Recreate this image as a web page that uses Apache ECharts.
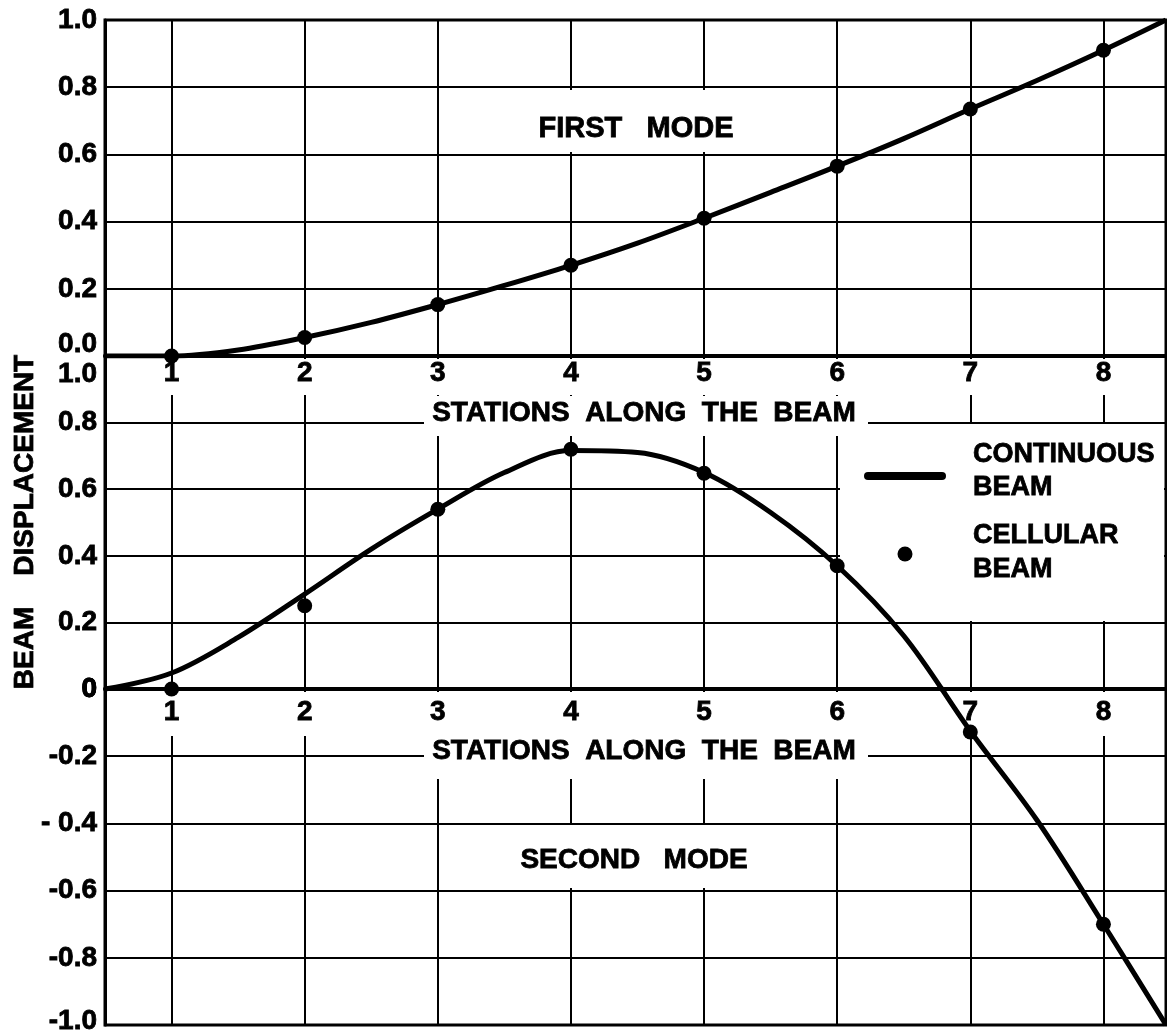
<!DOCTYPE html>
<html>
<head>
<meta charset="utf-8">
<script src="https://cdn.jsdelivr.net/npm/echarts@6/dist/echarts.min.js"></script>
<style>
  html, body { margin: 0; padding: 0; background: #fff; }
  #chart { width: 1167px; height: 1036px; }
</style>
</head>
<body>
<div id="chart"></div>
<script>
// Stations along the beam (x positions of the cells) and their labels
const stations = [1, 2, 3, 4, 5, 6, 7, 8];
const stationLabels = ['1', '2', '3', '4', '5', '6', '7', '8'];

// Continuous-beam mode shapes, sampled every half station from end to end
const curveStations = [0.5, 1, 1.5, 2, 2.5, 3, 3.5, 4, 4.5, 5, 5.5, 6, 6.5, 7, 7.5, 8, 8.47];
const firstModeCurve = [0, 0, 0.018, 0.055, 0.10, 0.153, 0.21, 0.27, 0.336, 0.41, 0.487, 0.565, 0.647, 0.735, 0.82, 0.91, 1.0];
const secondModeCurve = [0, 0.048, 0.155, 0.285, 0.42, 0.54, 0.65, 0.716, 0.71, 0.65, 0.53, 0.37, 0.16, -0.125, -0.39, -0.70, -1.0];

// Cellular-beam displacements at each station
const firstModeCells = [0, 0.055, 0.153, 0.27, 0.41, 0.565, 0.735, 0.91];
const secondModeCells = [0, 0.25, 0.54, 0.72, 0.648, 0.37, -0.128, -0.70];

// Displacement tick values and their printed labels
const firstModeTicks = [0, 0.2, 0.4, 0.6, 0.8, 1.0];
const firstModeTickLabels = ['0.0', '0.2', '0.4', '0.6', '0.8', '1.0'];
const secondModeTicks = [-1.0, -0.8, -0.6, -0.4, -0.2, 0, 0.2, 0.4, 0.6, 0.8, 1.0];
const secondModeTickLabels = ['-1.0', '-0.8', '-0.6', '- 0.4', '-0.2', '0', '0.2', '0.4', '0.6', '0.8', '1.0'];

const FONT = '"Liberation Sans", Arial, sans-serif';
const INK = '#000';
const SMOOTH = 0.34;

function pairs(xs, ys) { return xs.map((x, i) => [x, ys[i]]); }
function tickText(ticks, labels, v) {
  const i = ticks.findIndex(t => Math.abs(t - v) < 1e-6);
  return i < 0 ? '' : labels[i];
}
const labelFont = {
  fontFamily: FONT, fontWeight: 'bold', fontSize: 28, color: INK,
  textBorderColor: INK, textBorderWidth: 0.8
};

const chart = echarts.init(document.getElementById('chart'), null, { renderer: 'canvas' });

// station axis drawing the zero line and the station numbers (kept above the blanked bands)
function stationLabelAxis(gridIndex, margin) {
  return {
    type: 'value', gridIndex: gridIndex, min: 0.5, max: 8.47, position: 'bottom', z: 4,
    axisLine: { show: true, onZero: false, lineStyle: { color: INK, width: 4 } },
    axisTick: { show: false, customValues: stations },
    axisLabel: Object.assign({
      customValues: stations, margin: margin,
      formatter: v => stationLabels[stations.indexOf(v)]
    }, labelFont),
    splitLine: { show: false }
  };
}
// station axis drawing only the vertical grid lines (kept below the blanked bands)
function stationGridAxis(gridIndex) {
  return {
    type: 'value', gridIndex: gridIndex, min: 0.5, max: 8.47, position: 'top', z: 0,
    axisLine: { show: false },
    axisTick: { show: false, customValues: stations },
    axisLabel: { show: false, customValues: stations },
    splitLine: { show: true, lineStyle: { color: INK, width: 2 } }
  };
}

// displacement axis; `shift` moves chosen labels up (-) or down (+)
function displacementAxis(gridIndex, min, max, ticks, labels, shift) {
  const rich = {};
  Object.keys(shift).forEach(k => {
    const d = shift[k];
    rich['s' + k.replace(/[^0-9]/g, '_')] = Object.assign(
      { padding: d > 0 ? [2 * d, 0, 0, 0] : [0, 0, -2 * d, 0] }, labelFont);
  });
  return {
    type: 'value', gridIndex: gridIndex, min: min, max: max, interval: 0.2,
    axisLine: { show: true, onZero: false, lineStyle: { color: INK, width: 3 } },
    axisTick: { show: false },
    splitLine: { show: true, lineStyle: { color: INK, width: 2 } },
    axisLabel: Object.assign({
      margin: 8,
      formatter: v => {
        const s = tickText(ticks, labels, v);
        const key = String(Math.round(v * 10) / 10);
        if (s && shift[key] !== undefined) return '{s' + key.replace(/[^0-9]/g, '_') + '|' + s + '}';
        return s;
      },
      rich: rich
    }, labelFont)
  };
}

function textEl(text, x, y, size, extra) {
  return Object.assign({
    type: 'text', x: x, y: y, z: 1, z2: 20,
    style: {
      text: text, fill: INK, font: 'bold ' + size + 'px ' + FONT,
      stroke: INK, lineWidth: 0.8,
      align: 'center', verticalAlign: 'middle'
    }
  }, extra || {});
}
function mask(x, y, w, h) {
  return { type: 'rect', z: 1, z2: 0, shape: { x: x, y: y, width: w, height: h }, style: { fill: '#fff' } };
}

const gridBase = { left: 105, width: 1061, show: true, borderColor: INK, borderWidth: 3, outerBoundsMode: 'none', containLabel: false };

const option = {
  animation: false,
  backgroundColor: '#fff',
  grid: [
    Object.assign({ top: 20, height: 336 }, gridBase),   // first mode
    Object.assign({ top: 356, height: 333 }, gridBase),  // second mode, upward half
    Object.assign({ top: 689, height: 336 }, gridBase)   // second mode, downward half
  ],
  xAxis: [
    stationLabelAxis(0, 3), stationGridAxis(0),
    stationLabelAxis(1, 9), stationGridAxis(1),
    stationGridAxis(2)
  ],
  yAxis: [
    displacementAxis(0, 0, 1, firstModeTicks, firstModeTickLabels, { '0': -12 }),
    displacementAxis(1, 0, 1, secondModeTicks, secondModeTickLabels, { '1': 18 }),
    displacementAxis(2, -1, 0, secondModeTicks, secondModeTickLabels, { '-1': -4 })
  ],
  series: [
    {
      name: 'CONTINUOUS BEAM', type: 'line', xAxisIndex: 0, yAxisIndex: 0, z: 2,
      data: pairs(curveStations, firstModeCurve), smooth: SMOOTH, showSymbol: false,
      lineStyle: { color: INK, width: 5 }
    },
    {
      name: 'CELLULAR BEAM', type: 'scatter', xAxisIndex: 0, yAxisIndex: 0, z: 3,
      data: pairs(stations, firstModeCells), symbolSize: 15,
      itemStyle: { color: INK, opacity: 1 }
    },
    {
      name: 'CONTINUOUS BEAM', type: 'line', xAxisIndex: 2, yAxisIndex: 1, z: 2,
      data: pairs(curveStations, secondModeCurve), smooth: SMOOTH, showSymbol: false, clip: true,
      lineStyle: { color: INK, width: 5 }
    },
    {
      name: 'CONTINUOUS BEAM', type: 'line', xAxisIndex: 4, yAxisIndex: 2, z: 2,
      data: pairs(curveStations, secondModeCurve), smooth: SMOOTH, showSymbol: false, clip: true,
      lineStyle: { color: INK, width: 5 }
    },
    {
      name: 'CELLULAR BEAM', type: 'scatter', xAxisIndex: 2, yAxisIndex: 1, z: 3,
      data: pairs(stations, secondModeCells).filter(p => p[1] >= 0), symbolSize: 15,
      itemStyle: { color: INK, opacity: 1 }
    },
    {
      name: 'CELLULAR BEAM', type: 'scatter', xAxisIndex: 4, yAxisIndex: 2, z: 3,
      data: pairs(stations, secondModeCells).filter(p => p[1] < 0), symbolSize: 15,
      itemStyle: { color: INK, opacity: 1 }
    }
  ],
  graphic: [
    // clear bands behind the station labels, captions and key
    mask(450, 90, 380, 62),
    mask(450, 825, 380, 63),
    mask(107, 359, 1057, 36),
    mask(424, 396, 444, 40),
    mask(107, 692, 1057, 44),
    mask(424, 736, 444, 43),
    mask(840, 424, 324, 197),

    textEl('FIRST   MODE', 636, 129, 29),
    textEl('SECOND   MODE', 634, 860, 28),
    textEl('STATIONS  ALONG  THE  BEAM', 644, 413, 28),
    textEl('STATIONS  ALONG  THE  BEAM', 644, 751, 28),
    textEl('BEAM    DISPLACEMENT', 25, 522, 28, { rotation: Math.PI / 2 }),

    // key
    { type: 'line', z: 3, shape: { x1: 868, y1: 476, x2: 942, y2: 476 },
      style: { stroke: INK, lineWidth: 8, lineCap: 'round' } },
    { type: 'circle', z: 3, shape: { cx: 905, cy: 554, r: 7.5 }, style: { fill: INK } },
    { type: 'text', x: 973, y: 471, z: 3,
      style: { text: 'CONTINUOUS\nBEAM', fill: INK, font: 'bold 27px ' + FONT, stroke: INK, lineWidth: 0.8,
               lineHeight: 33, align: 'left', verticalAlign: 'middle' } },
    { type: 'text', x: 973, y: 553, z: 3,
      style: { text: 'CELLULAR\nBEAM', fill: INK, font: 'bold 27px ' + FONT, stroke: INK, lineWidth: 0.8,
               lineHeight: 34, align: 'left', verticalAlign: 'middle' } }
  ]
};

chart.setOption(option);
</script>
</body>
</html>
